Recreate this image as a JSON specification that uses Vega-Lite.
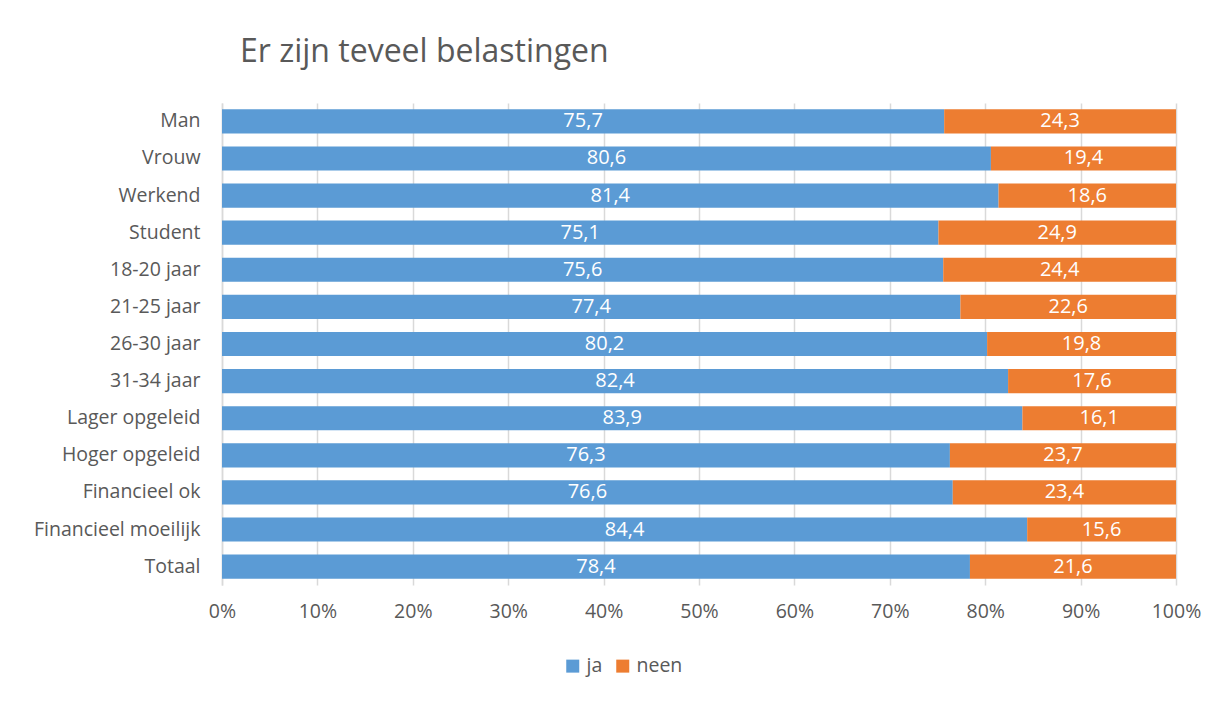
{
  "$schema": "https://vega.github.io/schema/vega-lite/v6.json",
  "autosize": {"type": "none"},
  "padding": {"left": 222, "top": 103, "right": 53, "bottom": 117},
  "width": 954,
  "height": 482,
  "background": "white",
  "title": {
    "text": "Er zijn teveel belastingen",
    "anchor": "start",
    "frame": "group",
    "dx": 18,
    "offset": 9,
    "baseline": "alphabetic",
    "font": "Open Sans",
    "fontSize": 32,
    "fontWeight": "normal",
    "color": "#595959"
  },
  "config": {
    "font": "Open Sans",
    "view": {"stroke": null},
    "locale": {"number": {"decimal": ",", "thousands": ".", "grouping": [3], "currency": ["€", ""]}}
  },
  "data": {
    "values": [
      {"groep": "Man", "ja": 75.7, "neen": 24.3},
      {"groep": "Vrouw", "ja": 80.6, "neen": 19.4},
      {"groep": "Werkend", "ja": 81.4, "neen": 18.6},
      {"groep": "Student", "ja": 75.1, "neen": 24.9},
      {"groep": "18-20 jaar", "ja": 75.6, "neen": 24.4},
      {"groep": "21-25 jaar", "ja": 77.4, "neen": 22.6},
      {"groep": "26-30 jaar", "ja": 80.2, "neen": 19.8},
      {"groep": "31-34 jaar", "ja": 82.4, "neen": 17.6},
      {"groep": "Lager opgeleid", "ja": 83.9, "neen": 16.1},
      {"groep": "Hoger opgeleid", "ja": 76.3, "neen": 23.7},
      {"groep": "Financieel ok", "ja": 76.6, "neen": 23.4},
      {"groep": "Financieel moeilijk", "ja": 84.4, "neen": 15.6},
      {"groep": "Totaal", "ja": 78.4, "neen": 21.6}
    ]
  },
  "encoding": {
    "y": {
      "field": "groep",
      "type": "nominal",
      "sort": null,
      "scale": {"paddingInner": 0.35, "paddingOuter": 0.17},
      "axis": {
        "title": null,
        "ticks": false,
        "labelPadding": 22,
        "labelFontSize": 19.5,
        "labelColor": "#595959",
        "domainColor": "#D9D9D9",
        "domainWidth": 1.5,
        "grid": false
      }
    }
  },
  "resolve": {"scale": {"x": "independent"}},
  "layer": [
    {
      "mark": {"type": "bar"},
      "encoding": {
        "x": {
          "field": "ja",
          "type": "quantitative",
          "scale": {"domain": [0, 100], "nice": false},
          "axis": {
            "title": null,
            "values": [0, 10, 20, 30, 40, 50, 60, 70, 80, 90, 100],
            "labelExpr": "datum.value + '%'",
            "labelFontSize": 19.5,
            "labelColor": "#595959",
            "labelPadding": 17,
            "labelFlush": false,
            "labelOverlap": false,
            "ticks": false,
            "domain": false,
            "grid": true,
            "gridColor": "#D9D9D9",
            "gridWidth": 1.5,
            "zindex": 0
          }
        },
        "color": {
          "datum": "ja",
          "type": "nominal",
          "scale": {"domain": ["ja", "neen"], "range": ["#5B9BD5", "#ED7D31"]},
          "legend": {
            "title": null,
            "orient": "none",
            "direction": "horizontal",
            "legendX": 341,
            "legendY": 553,
            "symbolType": "square",
            "symbolSize": 169,
            "symbolStrokeWidth": 0,
            "labelFontSize": 19.5,
            "labelColor": "#595959",
            "labelOffset": 4,
            "columnPadding": 10
          }
        }
      }
    },
    {
      "mark": {"type": "bar"},
      "encoding": {
        "x": {
          "field": "ja",
          "type": "quantitative",
          "scale": {"domain": [0, 100], "nice": false},
          "axis": null
        },
        "x2": {"datum": 100},
        "color": {"datum": "neen", "type": "nominal"}
      }
    },
    {
      "mark": {"type": "text", "color": "white", "fontSize": 20, "align": "center", "baseline": "middle"},
      "encoding": {
        "x": {
          "field": "ja",
          "type": "quantitative",
          "scale": {"domain": [0, 200], "nice": false, "zero": false},
          "axis": null
        },
        "text": {"field": "ja", "type": "quantitative", "format": ".1f"}
      }
    },
    {
      "mark": {"type": "text", "color": "white", "fontSize": 20, "align": "center", "baseline": "middle"},
      "encoding": {
        "x": {
          "field": "ja",
          "type": "quantitative",
          "scale": {"domain": [-100, 100], "nice": false, "zero": false},
          "axis": null
        },
        "text": {"field": "neen", "type": "quantitative", "format": ".1f"}
      }
    }
  ]
}
